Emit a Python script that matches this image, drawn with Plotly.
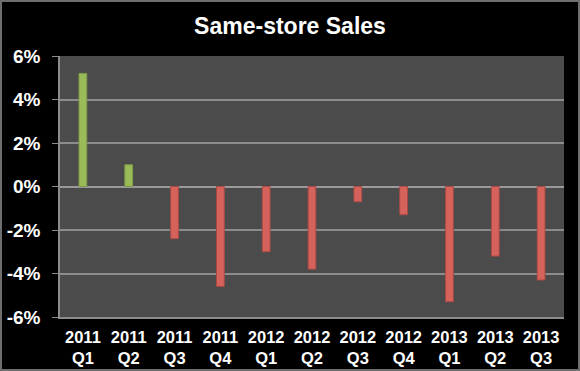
import plotly.graph_objects as go

quarters = ["2011<br>Q1", "2011<br>Q2", "2011<br>Q3", "2011<br>Q4",
            "2012<br>Q1", "2012<br>Q2", "2012<br>Q3", "2012<br>Q4",
            "2013<br>Q1", "2013<br>Q2", "2013<br>Q3"]
sales_growth = [5.2, 1.0, -2.4, -4.6, -3.0, -3.8, -0.7, -1.3, -5.3, -3.2, -4.3]
y_ticks = [-6, -4, -2, 0, 2, 4, 6]
y_tick_labels = ["-6%", "-4%", "-2%", "0%", "2%", "4%", "6%"]

GREEN = "#9BBB59"
RED = "#D6625C"
colors = [GREEN if v >= 0 else RED for v in sales_growth]
line_colors = ["#7E9A45" if v >= 0 else "#A84A45" for v in sales_growth]

fig = go.Figure()
fig.add_trace(go.Bar(
    x=quarters, y=[v / 100 for v in sales_growth],
    marker=dict(color=colors, line=dict(color=line_colors, width=1)),
))

fig.update_layout(
    width=580, height=371,
    paper_bgcolor="black", plot_bgcolor="#4B4B4B",
    margin=dict(l=60, r=16, t=56, b=54, autoexpand=False),
    bargap=0.83,
    showlegend=False,
    title=dict(text="<b>Same-store Sales</b>", x=0.5, xanchor="center",
               y=0.93, yanchor="middle",
               font=dict(family="Liberation Sans, Arial", size=23, color="white")),
    font=dict(family="Liberation Sans, Arial", color="white"),
    xaxis=dict(
        automargin=False,
        tickfont=dict(size=16.5, color="white", family="Liberation Sans, Arial", weight="bold"),
        showline=True, linecolor="#8C8C8C", linewidth=1.5, mirror=False,
        showgrid=False, ticks="", ticklabelstandoff=4,
    ),
)
fig.update_yaxes(
    automargin=False,
    range=[-0.06, 0.06], tickvals=[t / 100 for t in y_ticks], ticktext=y_tick_labels,
    tickfont=dict(size=19, color="white", family="Liberation Sans, Arial", weight="bold"),
    gridcolor="#8C8C8C", gridwidth=1.5,
    zeroline=True, zerolinecolor="#9A9A9A", zerolinewidth=1.5,
    showline=True, linecolor="#8C8C8C", linewidth=1.5,
    ticks="outside", tickcolor="#8C8C8C", ticklen=6, ticklabelstandoff=8,
)
fig.add_shape(type="rect", xref="paper", yref="paper",
              x0=-59 / 504, x1=1 + 15 / 504, y0=-53 / 261, y1=1 + 55 / 261,
              line=dict(color="#6E6E6E", width=2), fillcolor="rgba(0,0,0,0)", layer="above")

fig.write_html("out.html", config={"displayModeBar": False},
               post_script="document.body.style.margin='0';document.body.style.background='black';")
